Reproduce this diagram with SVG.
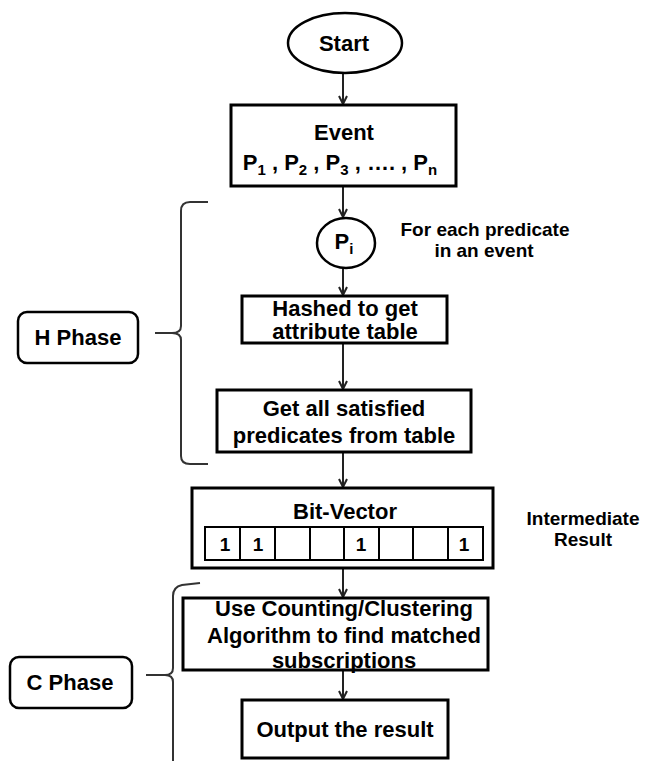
<svg xmlns="http://www.w3.org/2000/svg" width="645" height="761" viewBox="0 0 645 761">
  <style>
    .box { fill: #fff; stroke: #000; stroke-width: 3; }
    .cell { fill: #fff; stroke: #000; stroke-width: 2; }
    .phase { fill: #fff; stroke: #000; stroke-width: 2.5; }
    .t { font-family: "Liberation Sans", Arial, sans-serif; font-weight: bold; font-size: 22px; fill: #000; text-anchor: middle; }
    .n { font-size: 19px; }
    .sub { font-size: 15px; }
    .edge { stroke: #222; stroke-width: 2; fill: none; marker-end: url(#arr); }
    .brace { stroke: #333; stroke-width: 2; fill: none; }
  </style>
  <defs>
    <marker id="arr" viewBox="0 0 10 10" refX="9" refY="5" markerWidth="10" markerHeight="10" markerUnits="userSpaceOnUse" orient="auto">
      <path d="M1,1 L9,5 L1,9" fill="none" stroke="#222" stroke-width="2"/>
    </marker>
  </defs>
  <rect width="645" height="761" fill="#fff"/>

  <g id="connectors">
    <line class="edge" x1="343" y1="73" x2="343" y2="104"/>
    <line class="edge" x1="343" y1="186" x2="343" y2="217"/>
    <line class="edge" x1="343" y1="268" x2="343" y2="295"/>
    <line class="edge" x1="343" y1="343" x2="343" y2="389"/>
    <line class="edge" x1="343" y1="452" x2="343" y2="487"/>
    <line class="edge" x1="343" y1="568" x2="343" y2="597"/>
    <line class="edge" x1="343" y1="671" x2="343" y2="699"/>
  </g>

  <g id="start">
    <ellipse cx="345" cy="43" rx="57" ry="30" fill="#fff" stroke="#000" stroke-width="2.5"/>
    <text class="t" x="344" y="51" font-size="21">Start</text>
  </g>

  <g id="event">
    <rect class="box" x="231" y="105" width="225" height="81"/>
    <text class="t" x="344" y="140">Event</text>
    <text class="t" x="340" y="170">P<tspan class="sub" dy="5">1</tspan><tspan dy="-5"> , P</tspan><tspan class="sub" dy="5">2</tspan><tspan dy="-5"> , P</tspan><tspan class="sub" dy="5">3</tspan><tspan dy="-5"> , …. , P</tspan><tspan class="sub" dy="5">n</tspan></text>
  </g>

  <g id="pi">
    <ellipse cx="346" cy="243" rx="29" ry="25" fill="#fff" stroke="#000" stroke-width="2.5"/>
    <text class="t" x="344" y="249">P<tspan class="sub" dy="5">i</tspan></text>
  </g>

  <g id="for-each-note">
    <text class="t n" x="485" y="236">For each predicate</text>
    <text class="t n" x="484" y="257">in an event</text>
  </g>

  <g id="hashed">
    <rect class="box" x="242" y="296" width="205" height="47"/>
    <text class="t" x="345" y="316" font-size="20.5">Hashed to get</text>
    <text class="t" x="345" y="339" font-size="20.5">attribute table</text>
  </g>

  <g id="satisfied">
    <rect class="box" x="217" y="390" width="254" height="62"/>
    <text class="t" x="344" y="416">Get all satisfied</text>
    <text class="t" x="344" y="443">predicates from table</text>
  </g>

  <g id="bit-vector">
    <rect class="box" x="192" y="488" width="301" height="80"/>
    <text class="t" x="345" y="519">Bit-Vector</text>
    <rect class="cell" x="205" y="527" width="35" height="33"/>
    <rect class="cell" x="240" y="527" width="35" height="33"/>
    <rect class="cell" x="275" y="527" width="35" height="33"/>
    <rect class="cell" x="310" y="527" width="34" height="33"/>
    <rect class="cell" x="344" y="527" width="35" height="33"/>
    <rect class="cell" x="379" y="527" width="34" height="33"/>
    <rect class="cell" x="413" y="527" width="35" height="33"/>
    <rect class="cell" x="448" y="527" width="35" height="33"/>
    <text class="t n" x="225" y="551">1</text>
    <text class="t n" x="258" y="551">1</text>
    <text class="t n" x="361" y="551">1</text>
    <text class="t n" x="464" y="551">1</text>
  </g>

  <g id="intermediate-note">
    <text class="t n" x="583" y="525" font-size="20">Intermediate</text>
    <text class="t n" x="583" y="546" font-size="20">Result</text>
  </g>

  <g id="counting">
    <rect class="box" x="183" y="598" width="305" height="72"/>
    <text class="t" x="344" y="616" font-size="21.5">Use Counting/Clustering</text>
    <text class="t" x="344" y="643" font-size="21.5">Algorithm to find matched</text>
    <text class="t" x="344" y="668" font-size="21.5">subscriptions</text>
  </g>

  <g id="output">
    <rect class="box" x="242" y="700" width="206" height="58"/>
    <text class="t" x="345" y="737" font-size="24">Output the result</text>
  </g>

  <g id="h-phase">
    <rect class="phase" x="18" y="312" width="120" height="51" rx="9"/>
    <text class="t" x="78" y="345" font-size="21">H Phase</text>
    <path class="brace" d="M208,202 L190,202 Q181,202 181,211 L181,326 Q181,333 172,333 L155,333 M172,333 Q181,333 181,340 L181,456 Q181,464 190,464 L208,464"/>
  </g>

  <g id="c-phase">
    <rect class="phase" x="10" y="657" width="122" height="51" rx="9"/>
    <text class="t" x="70" y="690" font-size="21">C Phase</text>
    <path class="brace" d="M200,583 L182,585 Q173,587 173,596 L173,668 Q173,675 165,675 L146,675 M165,675 Q173,675 173,682 L173,761"/>
  </g>
</svg>
